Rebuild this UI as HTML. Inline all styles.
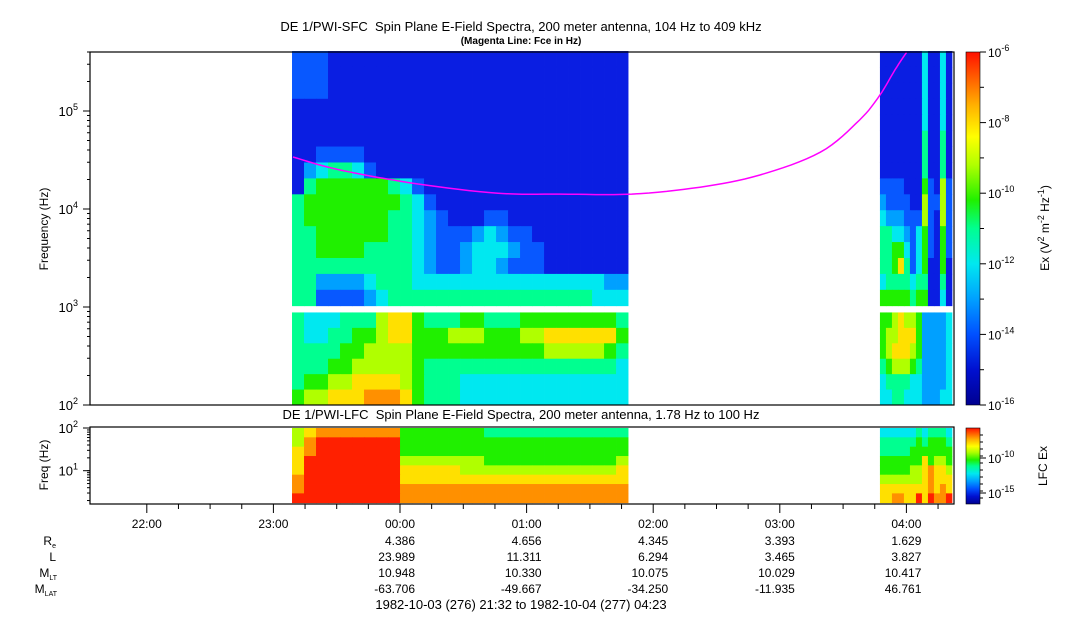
<!DOCTYPE html>
<html><head><meta charset="utf-8"><style>
html,body{margin:0;padding:0;background:#fff;}
svg{display:block;font-family:"Liberation Sans",Arial,sans-serif;}
</style></head><body>
<svg id="chart" width="1083" height="620" viewBox="0 0 1083 620" xmlns="http://www.w3.org/2000/svg">
<defs>
<linearGradient id="cmap" x1="0" y1="1" x2="0" y2="0">
<stop offset="0" stop-color="#000090"/><stop offset="0.1" stop-color="#0010d0"/><stop offset="0.2" stop-color="#0050ff"/>
<stop offset="0.3" stop-color="#00a0ff"/><stop offset="0.4" stop-color="#00e8f0"/><stop offset="0.5" stop-color="#00ff90"/>
<stop offset="0.58" stop-color="#20f000"/><stop offset="0.68" stop-color="#b0ff00"/><stop offset="0.76" stop-color="#ffff00"/>
<stop offset="0.85" stop-color="#ffb000"/><stop offset="1" stop-color="#ff1000"/>
</linearGradient>
</defs>
<g id="cells"></g>
<g id="lfccells"></g>
<path id="fce" fill="none" stroke="#ff00ff" stroke-width="1.5"/>
<rect x="90" y="52" width="864" height="353" fill="none" stroke="#000" stroke-width="1.2"/>
<rect x="90" y="427" width="864" height="77" fill="none" stroke="#000" stroke-width="1.2"/>
<g id="axes"></g>
<text x="521" y="31" font-size="13" text-anchor="middle">DE 1/PWI-SFC&#160; Spin Plane E-Field Spectra, 200 meter antenna, 104 Hz to 409 kHz</text>
<text x="521" y="44" font-size="10" font-weight="bold" text-anchor="middle">(Magenta Line: Fce in Hz)</text>
<text x="521" y="419" font-size="13" text-anchor="middle">DE 1/PWI-LFC&#160; Spin Plane E-Field Spectra, 200 meter antenna, 1.78 Hz to 100 Hz</text>
<text transform="translate(48,229) rotate(-90)" font-size="12" text-anchor="middle">Frequency (Hz)</text>
<text transform="translate(48,465) rotate(-90)" font-size="12" text-anchor="middle">Freq (Hz)</text>
<rect x="966" y="52" width="14" height="353" fill="url(#cmap)" stroke="#000" stroke-width="0.6"/>
<rect x="966" y="428" width="14" height="76" fill="url(#cmap)" stroke="#000" stroke-width="0.6"/>
<text transform="translate(1049,228) rotate(-90)" font-size="12" text-anchor="middle">Ex (V<tspan dy="-5" font-size="9">2</tspan><tspan dy="5"> m</tspan><tspan dy="-5" font-size="9">-2</tspan><tspan dy="5"> Hz</tspan><tspan dy="-5" font-size="9">-1</tspan><tspan dy="5">)</tspan></text>
<text transform="translate(1047,466) rotate(-90)" font-size="12" text-anchor="middle">LFC Ex</text>
<g font-size="12" text-anchor="end">
<text x="56" y="545">R<tspan font-size="7" dy="3">e</tspan></text>
<text x="56" y="561">L</text>
<text x="57" y="577">M<tspan font-size="7" dy="3">LT</tspan></text>
<text x="57" y="593">M<tspan font-size="7" dy="3">LAT</tspan></text>
</g>
<text x="521" y="609" font-size="13" text-anchor="middle">1982-10-03 (276) 21:32 to 1982-10-04 (277) 04:23</text>
</svg>
<script>
// ---- data ----
const sfcUpperRowsSeg1 = [
"2221111111111111111111111111","2221111111111111111111111111","2221111111111111111111111111",
"1111111111111111111111111111","1111111111111111111111111111","1111111111111111111111111111",
"1122221111111111111111111111","1345542111111111111111111111","1566666654211111111111111111",
"5666666665421111111111111111","5666666655432111221111111111","5566666655432223432211111111",
"5566665555432234443221111111","5555555555432234432221111111","5533334555444444444444444433",
"5522223455555555555555555444"];
const sfcUpperRowsSeg2 = [
"111111141141","111111141141","111111141141","111111141141","111111141141",
"111111151151","111111151151","111111151151","222211162172","322221172272",
"433322272172","554432462162","556642462162","556852461161","455554551151","666665661141"];
const sfcLowerRowsSeg1 = [
"5444555788655566555666666665","5445566788666777666778888886","5555667777666666666667777765",
"5556677777655555555555555554","5667788887655544444444444444","6778889998655544444444444444"];
const sfcLowerRowsSeg2 = ["667877633334","677888633334","678887633334","567776533334","455554433334","445544433344"];
const lfcRowsSeg1 = [
"7899999996666666555555555555","79AAAAAAA6666666666666666666","89AAAAAAA6666666666666666666",
"8AAAAAAAA7777777666666666667","8AAAAAAAA8888877777777777778","9AAAAAAAA8888888888888888888",
"9AAAAAAAA9999999999999999999","AAAAAAAAA9999999999999999999"];
const lfcRowsSeg2 = ["444444545554","555555656665","555556666666","666666686776","666667789887","777777789888","888888889898","889988A8A99A"];
const segStartHours = [-0.853, 3.791];   // hours relative to 00:00
const segColHours = [0.0948, 0.0474];
const fceHours = [-0.845,-0.474,0.142,0.774,1.264,1.83,2.37,2.84,3.32,3.63,3.79,3.91,4.01,4.05];
const fceHz = [33900,25000,18000,14500,14200,14200,16700,22200,38000,81000,145000,263000,409000,440000];
const timeTickLabels = ["22:00","23:00","00:00","01:00","02:00","03:00","04:00"];
const timeTickHours = [-2,-1,0,1,2,3,4];
const reVals = ["","","4.386","4.656","4.345","3.393","1.629"];
const lVals = ["","","23.989","11.311","6.294","3.465","3.827"];
const mltVals = ["","","10.948","10.330","10.075","10.029","10.417"];
const mlatVals = ["","","-63.706","-49.667","-34.250","-11.935","46.761"];
const sfcExps = [2,3,4,5];
const cbExps = [-6,-8,-10,-12,-14,-16];
// ---- scales ----
const NS="http://www.w3.org/2000/svg";
const colors={"0":"#000090","1":"#0a1ee2","2":"#0858ff","3":"#00a0ff","4":"#00e8f0","5":"#00ff90","6":"#20f000","7":"#b0ff00","8":"#ffe000","9":"#ff9000","A":"#ff2000"};
const x=h=>400+h*126.6;
const ySfc=f=>405-(Math.log10(f)-2)*98;
const yLfc=f=>470.7-(Math.log10(f)-1)*42.7;
function mk(tag,attrs,parent){const e=document.createElementNS(NS,tag);for(const k in attrs)e.setAttribute(k,attrs[k]);parent.appendChild(e);return e;}
const cells=document.getElementById('cells'), lcells=document.getElementById('lfccells');
function drawBand(rows,seg,y0,y1,parent,name){
  const rh=(y1-y0)/rows.length;
  rows.forEach((row,r)=>{[...row].forEach((ch,c)=>{
    const xa=x(segStartHours[seg]+c*segColHours[seg]), xb=x(segStartHours[seg]+(c+1)*segColHours[seg]);
    const e=mk('rect',{x:xa.toFixed(2),y:(y0+r*rh).toFixed(2),width:(xb-xa+0.4).toFixed(2),height:(rh+0.4).toFixed(2),fill:colors[ch]},parent);
    
    
  });});
}
drawBand(sfcUpperRowsSeg1,0,ySfc(409000),ySfc(1030),cells,'sfc-cell');
drawBand(sfcUpperRowsSeg2,1,ySfc(409000),ySfc(1030),cells,'sfc-cell');
drawBand(sfcLowerRowsSeg1,0,ySfc(880),ySfc(100),cells,'sfc-cell');
drawBand(sfcLowerRowsSeg2,1,ySfc(880),ySfc(100),cells,'sfc-cell');
drawBand(lfcRowsSeg1,0,yLfc(100),yLfc(1.78),lcells,'lfc-cell');
drawBand(lfcRowsSeg2,1,yLfc(100),yLfc(1.78),lcells,'lfc-cell');
// fce line, smoothed (Catmull-Rom), clipped at top
const pts=fceHours.map((h,i)=>[x(h),ySfc(fceHz[i])]);
let d="M"+pts[0][0].toFixed(1)+","+pts[0][1].toFixed(1);
for(let i=0;i<pts.length-1;i++){
  const p0=pts[Math.max(0,i-1)],p1=pts[i],p2=pts[i+1],p3=pts[Math.min(pts.length-1,i+2)];
  for(let s=1;s<=8;s++){const t=s/8,t2=t*t,t3=t2*t;
    const cx=0.5*((2*p1[0])+(-p0[0]+p2[0])*t+(2*p0[0]-5*p1[0]+4*p2[0]-p3[0])*t2+(-p0[0]+3*p1[0]-3*p2[0]+p3[0])*t3);
    const cy=0.5*((2*p1[1])+(-p0[1]+p2[1])*t+(2*p0[1]-5*p1[1]+4*p2[1]-p3[1])*t2+(-p0[1]+3*p1[1]-3*p2[1]+p3[1])*t3);
    if(cy<52)break;
    d+="L"+cx.toFixed(1)+","+cy.toFixed(1);}
}
document.getElementById('fce').setAttribute('d',d);
// axes
const ax=document.getElementById('axes');
sfcExps.forEach(e=>{
  const y=ySfc(Math.pow(10,e));
  mk('line',{x1:83,x2:90,y1:y,y2:y,stroke:'#000'},ax);
  const t=mk('text',{x:78,y:y+5,'font-size':13,'text-anchor':'end'},ax);
  
  
  t.innerHTML='10<tspan dy="-6" font-size="9">'+e+'</tspan>';
  for(let m=2;m<10;m++){const f=m*Math.pow(10,e);if(f>409000)break;const ym=ySfc(f);mk('line',{x1:87,x2:90,y1:ym,y2:ym,stroke:'#000'},ax);}
});
[1,2].forEach(e=>{
  const y=yLfc(Math.pow(10,e));
  mk('line',{x1:83,x2:90,y1:y,y2:y,stroke:'#000'},ax);
  const t=mk('text',{x:78,y:y+5,'font-size':13,'text-anchor':'end'},ax);
  
  
  t.innerHTML='10<tspan dy="-6" font-size="9">'+e+'</tspan>';
});
for(let f=2;f<100;f+=(f<10?1:10)){const y=yLfc(f);if(y<503)mk('line',{x1:87,x2:90,y1:y,y2:y,stroke:'#000'},ax);}
for(let q=-8;q<=17;q++){const h=q/4;const xx=x(h);if(xx<91||xx>953)continue;mk('line',{x1:xx,x2:xx,y1:504,y2:q%4===0?513:509,stroke:'#000'},ax);}
timeTickHours.forEach((h,i)=>{
  const xe=x(h)+15;
  const rows=[[timeTickLabels[i],528],[reVals[i],545],[lVals[i],561],[mltVals[i],577],[mlatVals[i],593]];
  rows.forEach(([s,y],k)=>{if(!s)return;const t=mk('text',{x:xe,y:y,'font-size':12,'text-anchor':'end'},ax);
    
    
    t.textContent=s;});
});
// colorbar ticks
cbExps.forEach((e,i)=>{
  const y=52+i*(353/5);
  mk('line',{x1:980,x2:986,y1:y,y2:y,stroke:'#000'},ax);
  if(i<5)mk('line',{x1:980,x2:984,y1:y+353/10,y2:y+353/10,stroke:'#000'},ax);
  const t=mk('text',{x:988,y:y+5,'font-size':12},ax);
  
  
  t.innerHTML='10<tspan dy="-6" font-size="9">'+e+'</tspan>';
});
[[-10,458],[-15,493]].forEach(([e,y])=>{
  mk('line',{x1:980,x2:986,y1:y,y2:y,stroke:'#000'},ax);
  const t=mk('text',{x:988,y:y+5,'font-size':12},ax);
  
  
  t.innerHTML='10<tspan dy="-6" font-size="9">'+e+'</tspan>';
});
for(let y=435;y<504;y+=7)mk('line',{x1:980,x2:983,y1:y,y2:y,stroke:'#000'},ax);
</script>
</body></html>
